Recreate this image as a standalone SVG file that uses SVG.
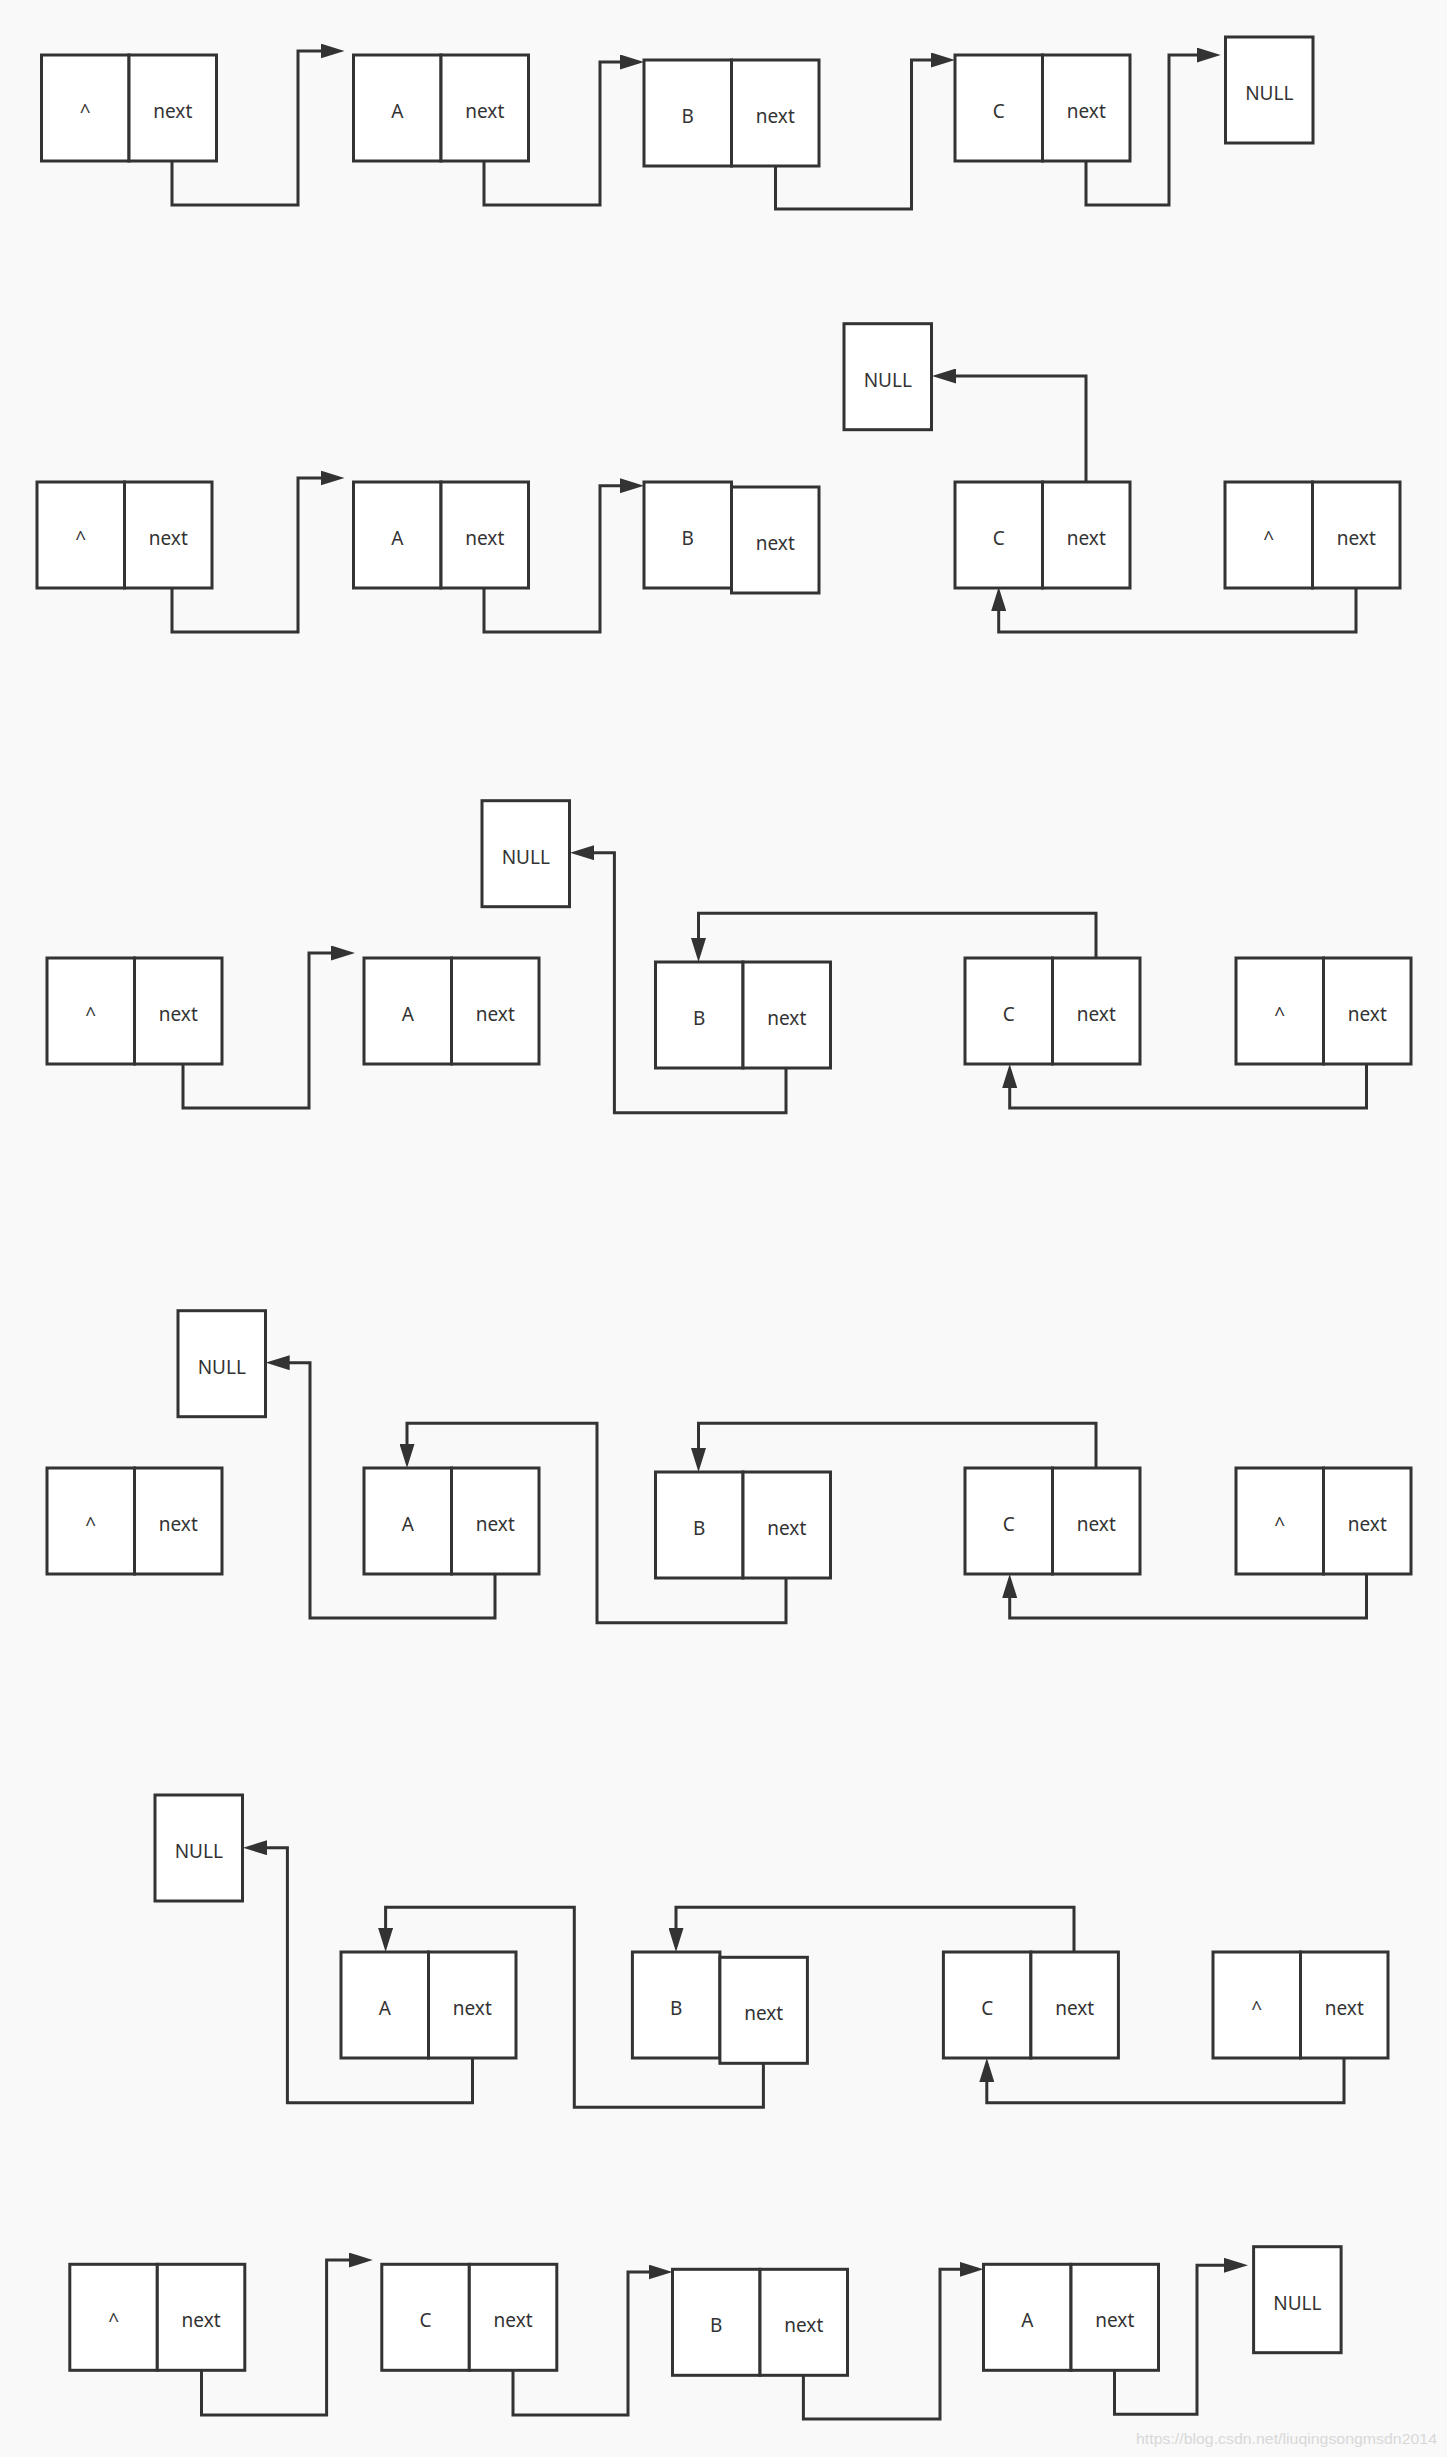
<svg xmlns="http://www.w3.org/2000/svg" width="1447" height="2457" viewBox="0 0 1447 2457">
<style>
.c{fill:#fff;stroke:#333;stroke-width:3}
.k{fill:none;stroke:#333;stroke-width:3;marker-end:url(#arr)}
.t{font-family:"Noto Sans","Liberation Sans",sans-serif;font-size:19px;fill:#333;text-anchor:middle}
.w{font-family:"Liberation Sans",sans-serif;font-size:15px;fill:#d8d8d8}
</style>
<defs>
<marker id="arr" markerUnits="userSpaceOnUse" markerWidth="24" markerHeight="15" refX="4" refY="7.5" orient="auto" viewBox="0 0 24 15"><path d="M0,0 L24,7.5 L0,15 z" fill="#333"/></marker>
</defs>
<rect x="0" y="0" width="1447" height="2457" fill="#f9f9f9"/>

<g id="connectors">
<path class="k" d="M172,161 V205 H298 V51 H324.5"/>
<path class="k" d="M484,161 V205 H600 V62 H624"/>
<path class="k" d="M775.5,165 V209 H911.5 V60 H935"/>
<path class="k" d="M1086,161 V205 H1169 V55 H1200.7"/>

<path class="k" d="M172,588 V632 H298 V478 H324.5"/>
<path class="k" d="M484,588 V632 H600 V485.7 H624"/>
<path class="k" d="M1086,482 V376 H952"/>
<path class="k" d="M1356,588 V632 H998.7 V607"/>

<path class="k" d="M183,1064 V1108 H309 V953 H335"/>
<path class="k" d="M786,1068 V1112.7 H614.4 V852.7 H590"/>
<path class="k" d="M1096,958 V913.3 H698.5 V942"/>
<path class="k" d="M1366.5,1064 V1108 H1009.7 V1084"/>

<path class="k" d="M495,1574 V1618 H310 V1362.7 H285.7"/>
<path class="k" d="M786,1578 V1622.7 H597 V1423.3 H407 V1448"/>
<path class="k" d="M1096,1468 V1423.3 H698.5 V1452"/>
<path class="k" d="M1366.5,1574 V1618 H1009.7 V1594"/>

<path class="k" d="M472.5,2058 V2102.7 H287.4 V1847.7 H263"/>
<path class="k" d="M763.4,2062.7 V2107.3 H574.3 V1907.3 H385.6 V1932"/>
<path class="k" d="M1074,1952 V1907.3 H676 V1932"/>
<path class="k" d="M1344,2058 V2102.7 H986.8 V2078"/>

<path class="k" d="M201.5,2370.3 V2415 H326.6 V2260 H352.8"/>
<path class="k" d="M513,2370.3 V2415 H628 V2272 H652.5"/>
<path class="k" d="M803.4,2374.3 V2419 H940 V2269.3 H963.5"/>
<path class="k" d="M1114.5,2370.3 V2414.3 H1197 V2265.3 H1228"/>
</g>

<!-- Row 1 -->
<g id="r1-head"><rect class="c" x="41.5" y="55" width="87.5" height="106"/><rect class="c" x="129" y="55" width="87.5" height="106"/><text class="t" x="85.3" y="118">^</text><text class="t" x="172.8" y="118">next</text></g>
<g id="r1-A"><rect class="c" x="353.5" y="55" width="87.5" height="106"/><rect class="c" x="441" y="55" width="87.5" height="106"/><text class="t" x="397.3" y="118">A</text><text class="t" x="484.8" y="118">next</text></g>
<g id="r1-B"><rect class="c" x="644" y="60" width="87.5" height="106"/><rect class="c" x="731.5" y="60" width="87.5" height="106"/><text class="t" x="687.8" y="123">B</text><text class="t" x="775.3" y="123">next</text></g>
<g id="r1-C"><rect class="c" x="955" y="55" width="87.5" height="106"/><rect class="c" x="1042.5" y="55" width="87.5" height="106"/><text class="t" x="998.8" y="118">C</text><text class="t" x="1086.3" y="118">next</text></g>
<g id="r1-NULL"><rect class="c" x="1225.5" y="37" width="87.5" height="106"/><text class="t" x="1269.3" y="100">NULL</text></g>

<!-- Row 2 -->
<g id="r2-head"><rect class="c" x="37" y="482" width="87.5" height="106"/><rect class="c" x="124.5" y="482" width="87.5" height="106"/><text class="t" x="80.8" y="545">^</text><text class="t" x="168.3" y="545">next</text></g>
<g id="r2-A"><rect class="c" x="353.5" y="482" width="87.5" height="106"/><rect class="c" x="441" y="482" width="87.5" height="106"/><text class="t" x="397.3" y="545">A</text><text class="t" x="484.8" y="545">next</text></g>
<g id="r2-B"><rect class="c" x="644" y="482" width="87.5" height="106"/><rect class="c" x="731.5" y="487" width="87.5" height="106"/><text class="t" x="687.8" y="545">B</text><text class="t" x="775.3" y="550">next</text></g>
<g id="r2-NULL"><rect class="c" x="844" y="323.7" width="87.5" height="106"/><text class="t" x="887.8" y="386.7">NULL</text></g>
<g id="r2-C"><rect class="c" x="955" y="482" width="87.5" height="106"/><rect class="c" x="1042.5" y="482" width="87.5" height="106"/><text class="t" x="998.8" y="545">C</text><text class="t" x="1086.3" y="545">next</text></g>
<g id="r2-head2"><rect class="c" x="1225" y="482" width="87.5" height="106"/><rect class="c" x="1312.5" y="482" width="87.5" height="106"/><text class="t" x="1268.8" y="545">^</text><text class="t" x="1356.3" y="545">next</text></g>

<!-- Row 3 -->
<g id="r3-NULL"><rect class="c" x="482" y="800.7" width="87.5" height="106"/><text class="t" x="525.8" y="863.7">NULL</text></g>
<g id="r3-head"><rect class="c" x="47" y="958" width="87.5" height="106"/><rect class="c" x="134.5" y="958" width="87.5" height="106"/><text class="t" x="90.8" y="1021">^</text><text class="t" x="178.3" y="1021">next</text></g>
<g id="r3-A"><rect class="c" x="364" y="958" width="87.5" height="106"/><rect class="c" x="451.5" y="958" width="87.5" height="106"/><text class="t" x="407.8" y="1021">A</text><text class="t" x="495.3" y="1021">next</text></g>
<g id="r3-B"><rect class="c" x="655.5" y="962" width="87.5" height="106"/><rect class="c" x="743" y="962" width="87.5" height="106"/><text class="t" x="699.3" y="1025">B</text><text class="t" x="786.8" y="1025">next</text></g>
<g id="r3-C"><rect class="c" x="965" y="958" width="87.5" height="106"/><rect class="c" x="1052.5" y="958" width="87.5" height="106"/><text class="t" x="1008.8" y="1021">C</text><text class="t" x="1096.3" y="1021">next</text></g>
<g id="r3-head2"><rect class="c" x="1236" y="958" width="87.5" height="106"/><rect class="c" x="1323.5" y="958" width="87.5" height="106"/><text class="t" x="1279.8" y="1021">^</text><text class="t" x="1367.3" y="1021">next</text></g>

<!-- Row 4 -->
<g id="r4-NULL"><rect class="c" x="178" y="1310.7" width="87.5" height="106"/><text class="t" x="221.8" y="1373.7">NULL</text></g>
<g id="r4-head"><rect class="c" x="47" y="1468" width="87.5" height="106"/><rect class="c" x="134.5" y="1468" width="87.5" height="106"/><text class="t" x="90.8" y="1531">^</text><text class="t" x="178.3" y="1531">next</text></g>
<g id="r4-A"><rect class="c" x="364" y="1468" width="87.5" height="106"/><rect class="c" x="451.5" y="1468" width="87.5" height="106"/><text class="t" x="407.8" y="1531">A</text><text class="t" x="495.3" y="1531">next</text></g>
<g id="r4-B"><rect class="c" x="655.5" y="1472" width="87.5" height="106"/><rect class="c" x="743" y="1472" width="87.5" height="106"/><text class="t" x="699.3" y="1535">B</text><text class="t" x="786.8" y="1535">next</text></g>
<g id="r4-C"><rect class="c" x="965" y="1468" width="87.5" height="106"/><rect class="c" x="1052.5" y="1468" width="87.5" height="106"/><text class="t" x="1008.8" y="1531">C</text><text class="t" x="1096.3" y="1531">next</text></g>
<g id="r4-head2"><rect class="c" x="1236" y="1468" width="87.5" height="106"/><rect class="c" x="1323.5" y="1468" width="87.5" height="106"/><text class="t" x="1279.8" y="1531">^</text><text class="t" x="1367.3" y="1531">next</text></g>

<!-- Row 5 -->
<g id="r5-NULL"><rect class="c" x="155" y="1795" width="87.5" height="106"/><text class="t" x="198.8" y="1858">NULL</text></g>
<g id="r5-A"><rect class="c" x="341" y="1952" width="87.5" height="106"/><rect class="c" x="428.5" y="1952" width="87.5" height="106"/><text class="t" x="384.8" y="2015">A</text><text class="t" x="472.3" y="2015">next</text></g>
<g id="r5-B"><rect class="c" x="632.4" y="1952" width="87.5" height="106"/><rect class="c" x="719.9" y="1957.3" width="87.5" height="106"/><text class="t" x="676.2" y="2015">B</text><text class="t" x="763.7" y="2020.3">next</text></g>
<g id="r5-C"><rect class="c" x="943.4" y="1952" width="87.5" height="106"/><rect class="c" x="1030.9" y="1952" width="87.5" height="106"/><text class="t" x="987.2" y="2015">C</text><text class="t" x="1074.7" y="2015">next</text></g>
<g id="r5-head2"><rect class="c" x="1213" y="1952" width="87.5" height="106"/><rect class="c" x="1300.5" y="1952" width="87.5" height="106"/><text class="t" x="1256.8" y="2015">^</text><text class="t" x="1344.3" y="2015">next</text></g>

<!-- Row 6 -->
<g id="r6-head"><rect class="c" x="69.8" y="2264.3" width="87.5" height="106"/><rect class="c" x="157.3" y="2264.3" width="87.5" height="106"/><text class="t" x="113.6" y="2327.3">^</text><text class="t" x="201.1" y="2327.3">next</text></g>
<g id="r6-C"><rect class="c" x="381.8" y="2264.3" width="87.5" height="106"/><rect class="c" x="469.3" y="2264.3" width="87.5" height="106"/><text class="t" x="425.6" y="2327.3">C</text><text class="t" x="513.1" y="2327.3">next</text></g>
<g id="r6-B"><rect class="c" x="672.5" y="2269.3" width="87.5" height="106"/><rect class="c" x="760" y="2269.3" width="87.5" height="106"/><text class="t" x="716.3" y="2332.3">B</text><text class="t" x="803.8" y="2332.3">next</text></g>
<g id="r6-A"><rect class="c" x="983.5" y="2264.3" width="87.5" height="106"/><rect class="c" x="1071" y="2264.3" width="87.5" height="106"/><text class="t" x="1027.3" y="2327.3">A</text><text class="t" x="1114.8" y="2327.3">next</text></g>
<g id="r6-NULL"><rect class="c" x="1253.6" y="2246.7" width="87.5" height="106"/><text class="t" x="1297.4" y="2309.7">NULL</text></g>

<text class="w" x="1136" y="2444" textLength="301" lengthAdjust="spacingAndGlyphs">https://blog.csdn.net/liuqingsongmsdn2014</text>
</svg>
